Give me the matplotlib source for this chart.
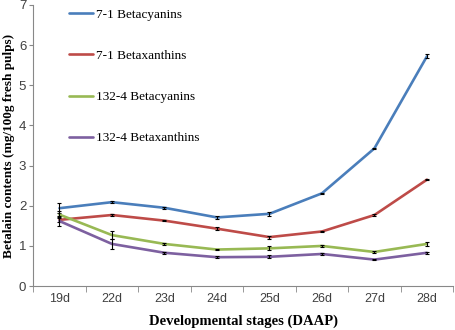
import numpy as np
import matplotlib
matplotlib.use('Agg')
import matplotlib.pyplot as plt

# data
stages = ['19d', '22d', '23d', '24d', '25d', '26d', '27d', '28d']
series_names = ['7-1 Betacyanins', '7-1 Betaxanthins', '132-4 Betacyanins', '132-4 Betaxanthins']
b71_cyan = [1.94, 2.09, 1.95, 1.71, 1.80, 2.31, 3.43, 5.72]
b71_xan = [1.65, 1.77, 1.63, 1.43, 1.22, 1.36, 1.77, 2.65]
b132_cyan = [1.78, 1.27, 1.05, 0.91, 0.94, 1.00, 0.85, 1.05]
b132_xan = [1.62, 1.05, 0.83, 0.72, 0.73, 0.80, 0.66, 0.83]
err71_cyan = [0.13, 0.03, 0.02, 0.03, 0.05, 0.02, 0.02, 0.05]
err71_xan = [0.06, 0.02, 0.02, 0.04, 0.04, 0.02, 0.02, 0.02]
err132_cyan = [0.08, 0.10, 0.02, 0.02, 0.05, 0.02, 0.02, 0.04]
err132_xan = [0.12, 0.12, 0.02, 0.02, 0.04, 0.02, 0.02, 0.03]
colors = ['#4a7ebb', '#be4b48', '#98b954', '#7d60a0']

values = [b71_cyan, b71_xan, b132_cyan, b132_xan]
errors = [err71_cyan, err71_xan, err132_cyan, err132_xan]

fig = plt.figure(figsize=(4.55, 3.3), dpi=100)
ax = fig.add_axes([0.073, 0.133, 0.923, 0.852])

x = np.arange(len(stages))
for vals, errs, name, c in zip(values, errors, series_names, colors):
    ax.plot(x, vals, color=c, lw=1.9, label=name, solid_capstyle='round')
    ax.errorbar(x, vals, yerr=errs, fmt='none', ecolor='black', elinewidth=0.8, capsize=1.6, capthick=0.8)

ax.set_xlim(-0.5, len(stages) - 0.5)
ax.set_ylim(0, 7)
ax.set_xticks(x)
ax.set_xticklabels(stages)
ax.set_xticks(np.arange(-0.5, len(stages), 1), minor=True)
ax.tick_params(axis='x', which='major', length=0, pad=5, labelsize=9, labelcolor='#404040')
ax.tick_params(axis='x', which='minor', length=4, direction='out', color='#888888')
ax.set_yticks(range(0, 8))
ax.tick_params(axis='y', length=3, direction='out', color='#888888', labelsize=9.5, labelcolor='#404040', pad=2)
for lab in ax.get_xticklabels() + ax.get_yticklabels():
    lab.set_family('Liberation Sans')

for s in ['top', 'right']:
    ax.spines[s].set_visible(False)
for s in ['left', 'bottom']:
    ax.spines[s].set_color('#888888')
    ax.spines[s].set_linewidth(0.8)

ax.set_ylabel('Betalain contents (mg/100g fresh pulps)', family='Liberation Serif',
              fontweight='bold', fontsize=9.5, labelpad=3)
ax.set_xlabel('Developmental stages (DAAP)', family='Liberation Serif',
              fontweight='bold', fontsize=10.5, labelpad=7)

ax.legend(loc='upper left', bbox_to_anchor=(0.058, 1.03), frameon=False,
          prop={'family': 'Liberation Serif', 'size': 9.5}, labelspacing=2.2,
          handlelength=1.75, handletextpad=0.3)

fig.savefig('out.png', dpi=100)
